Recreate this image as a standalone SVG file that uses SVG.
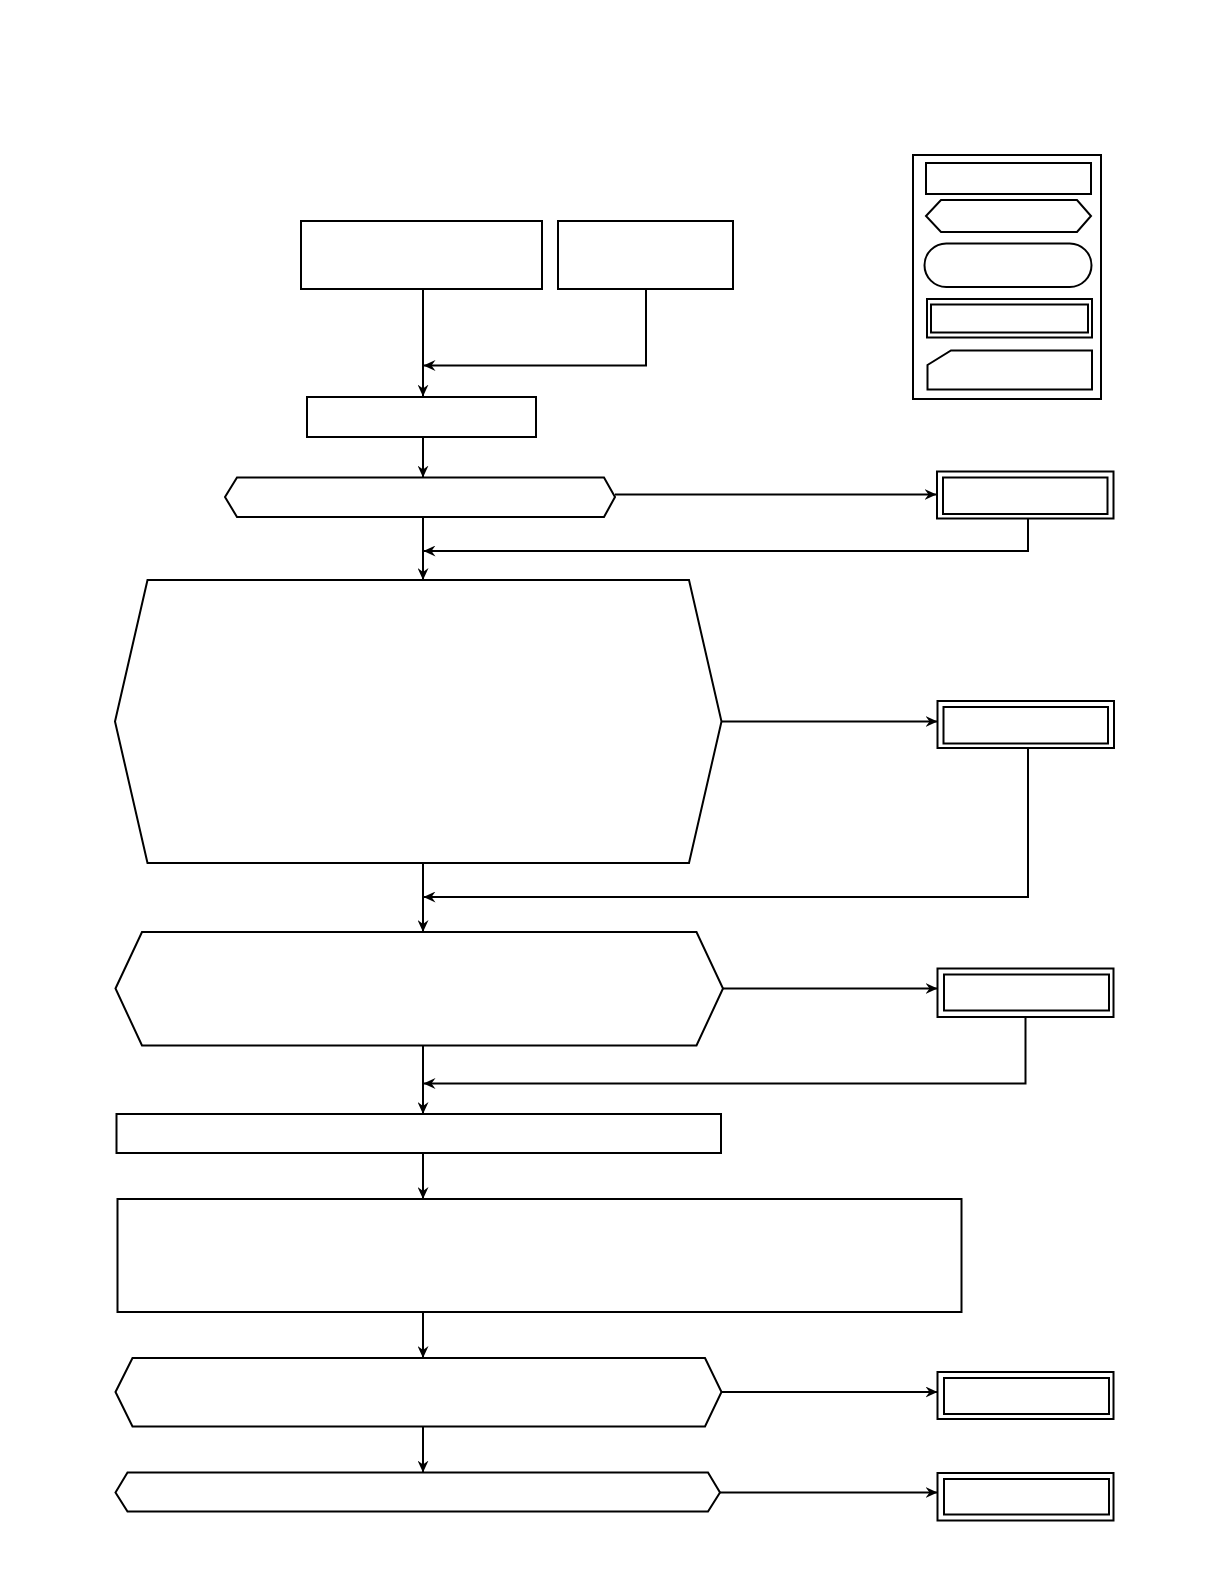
<svg xmlns="http://www.w3.org/2000/svg" width="1218" height="1588" viewBox="0 0 1218 1588">
<style>
.s{fill:#fff;stroke:#000;stroke-width:2}
.c{fill:none;stroke:#000;stroke-width:2}
</style>
<defs>
<marker id="ah" viewBox="0 0 12 11" markerWidth="12" markerHeight="11" refX="11.5" refY="5.5" orient="auto" markerUnits="userSpaceOnUse">
<path d="M0,0 L12,5.5 L0,11 L4,5.5 Z" fill="#000"/>
</marker>
</defs>
<rect width="1218" height="1588" fill="#fff"/>
<g id="legend">
<rect class="s" x="913" y="155" width="188" height="244"/>
<rect class="s" x="926" y="163" width="165" height="31"/>
<polygon class="s" points="926,216 941,200 1077,200 1091,216 1077,232 941,232"/>
<rect class="s" x="924.5" y="243.5" width="167" height="43.5" rx="21.75" ry="21.75"/>
<rect class="s" x="927" y="299" width="165" height="38.5"/>
<rect class="s" x="931" y="304.5" width="157" height="28"/>
<polygon class="s" points="927.5,365 951,350.5 1092,350.5 1092,389.5 927.5,389.5"/>
</g>
<g id="n_a"><rect class="s" x="301" y="221" width="241" height="68"/></g>
<g id="n_b"><rect class="s" x="558" y="221" width="175" height="68"/></g>
<g id="n_c"><rect class="s" x="307" y="397" width="229" height="40"/></g>
<g id="n_hex1"><polygon class="s" points="225,497 237,477.5 604,477.5 615,497 604,517 237,517"/></g>
<g id="n_end1"><rect class="s" x="937" y="471.5" width="176.5" height="47"/><rect class="s" x="943" y="477.5" width="164.5" height="36.5"/></g>
<g id="n_hex2"><polygon class="s" points="115,721.5 147.5,580 689,580 721.5,721.5 689,863 147.5,863"/></g>
<g id="n_end2"><rect class="s" x="937.5" y="701" width="176.5" height="47"/><rect class="s" x="943.5" y="707" width="164.5" height="36.5"/></g>
<g id="n_hex3"><polygon class="s" points="115.5,988.5 142,932 696.5,932 723,988.5 696.5,1045.5 142,1045.5"/></g>
<g id="n_end3"><rect class="s" x="937.5" y="968.5" width="176" height="48.5"/><rect class="s" x="944" y="974.5" width="165" height="36"/></g>
<g id="n_r4"><rect class="s" x="116.5" y="1114" width="604.5" height="39"/></g>
<g id="n_r5"><rect class="s" x="117.5" y="1199" width="844" height="113"/></g>
<g id="n_hex6"><polygon class="s" points="115.5,1392 132.5,1358 705,1358 721.5,1392 705,1426.5 132.5,1426.5"/></g>
<g id="n_end6"><rect class="s" x="937.5" y="1372" width="176" height="47"/><rect class="s" x="944" y="1378" width="165" height="36"/></g>
<g id="n_hex7"><polygon class="s" points="115.5,1492.5 127.5,1472.5 708,1472.5 720,1492.5 708,1511.5 127.5,1511.5"/></g>
<g id="n_end7"><rect class="s" x="937.5" y="1473" width="176" height="47.5"/><rect class="s" x="944" y="1479" width="165" height="35.5"/></g>
<g id="connectors">
<path class="c" d="M423,289 V396" marker-end="url(#ah)"/>
<path class="c" d="M646,289 V365.5 H424" marker-end="url(#ah)"/>
<path class="c" d="M423,437 V477" marker-end="url(#ah)"/>
<path class="c" d="M615,494.5 H936" marker-end="url(#ah)"/>
<path class="c" d="M1028,518.5 V551 H424" marker-end="url(#ah)"/>
<path class="c" d="M423,517 V579.5" marker-end="url(#ah)"/>
<path class="c" d="M721.5,721.5 H937" marker-end="url(#ah)"/>
<path class="c" d="M1028,748 V897 H424" marker-end="url(#ah)"/>
<path class="c" d="M423,863 V931.5" marker-end="url(#ah)"/>
<path class="c" d="M723,988.5 H937" marker-end="url(#ah)"/>
<path class="c" d="M1025.5,1017 V1083.5 H424" marker-end="url(#ah)"/>
<path class="c" d="M423,1045.5 V1113.5" marker-end="url(#ah)"/>
<path class="c" d="M423,1153 V1198.5" marker-end="url(#ah)"/>
<path class="c" d="M423,1312 V1357.5" marker-end="url(#ah)"/>
<path class="c" d="M721.5,1392 H937" marker-end="url(#ah)"/>
<path class="c" d="M423,1426.5 V1472" marker-end="url(#ah)"/>
<path class="c" d="M720,1492.5 H937" marker-end="url(#ah)"/>
</g>
</svg>
